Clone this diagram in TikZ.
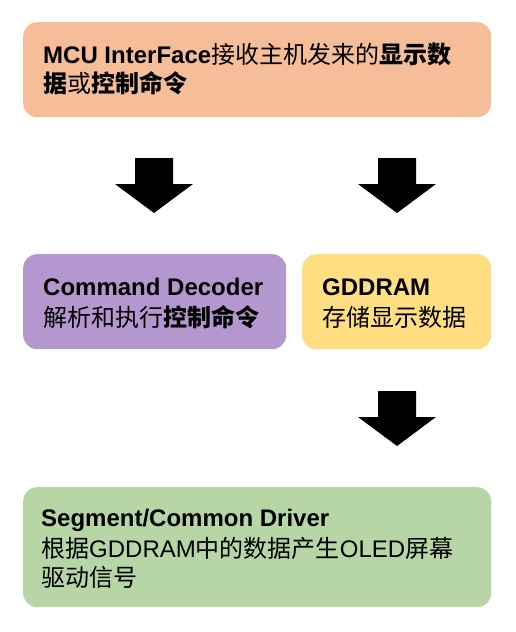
\documentclass[tikz,border=0pt]{standalone}
\usepackage{fontspec}
\setmainfont{Liberation Sans}
\newfontfamily\cjk{Noto Sans CJK SC}
\newcommand\zh[1]{{\cjk\mdseries #1}}
\newcommand\bzh[1]{{\cjk\bfseries #1}}
\definecolor{boxorange}{HTML}{F6BE98}
\definecolor{boxpurple}{HTML}{B597CF}
\definecolor{boxyellow}{HTML}{FFDE81}
\definecolor{boxgreen}{HTML}{B7D6A6}
\begin{document}
\begin{tikzpicture}[x=1pt,y=-1pt,
  box/.style={rectangle, rounded corners=14pt, draw=none, anchor=north west, inner sep=0pt},
  txt/.style={anchor=base west, inner sep=0pt, font=\fontsize{24}{29}\selectfont},
  downarrow/.pic={\fill[black] (-19,0) -- (19,0) -- (19,26) -- (39,26) -- (0,55) -- (-39,26) -- (-19,26) -- cycle;}]
\useasboundingbox (0,0) rectangle (516,632);
% boxes
\node[box, fill=boxorange, minimum width=468pt, minimum height=95pt] (mcu) at (23,22) {};
\node[box, fill=boxpurple, minimum width=263pt, minimum height=95pt] (cmd) at (23,254) {};
\node[box, fill=boxyellow, minimum width=189pt, minimum height=95pt] (gdd) at (302,254) {};
\node[box, fill=boxgreen, minimum width=468pt, minimum height=120pt] (drv) at (23,487) {};
% texts
\node[txt] (mcu1) at (43,63) {{\bfseries MCU InterFace}\zh{接收主机发来的}\bzh{显示数}};
\node[txt] (mcu2) at (43,92.5) {\bzh{据}\zh{或}\bzh{控制命令}};
\node[txt] (cmd1) at (43,295) {\bfseries Command Decoder};
\node[txt] (cmd2) at (43,326) {\zh{解析和执行}\bzh{控制命令}};
\node[txt] (gdd1) at (322,295) {\bfseries GDDRAM};
\node[txt] (gdd2) at (322,326) {\zh{存储显示数据}};
\node[txt] (drv1) at (41,526) {\bfseries Segment/Common Driver};
\node[txt] (drv2) at (41,557) {\zh{根据}GDDRAM\zh{中的数据产生}OLED\zh{屏幕}};
\node[txt] (drv3) at (41,586) {\zh{驱动信号}};
% arrows
\coordinate (a1) at (154,158);
\coordinate (a2) at (397,158);
\coordinate (a3) at (397,391);
\pic at (a1) {downarrow};
\pic at (a2) {downarrow};
\pic at (a3) {downarrow};
\end{tikzpicture}
\end{document}
